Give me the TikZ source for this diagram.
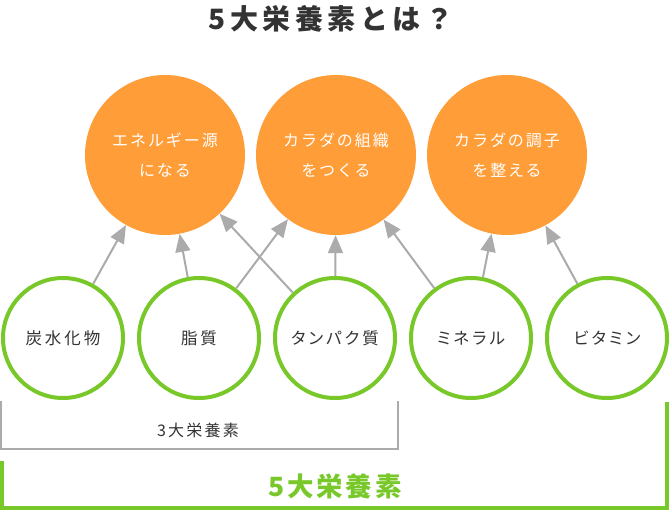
\documentclass[tikz,border=0pt]{standalone}
\usepackage{fontspec}
\setmainfont{Noto Sans CJK JP}
\usetikzlibrary{arrows.meta}
\definecolor{orangefill}{HTML}{FF9D38}
\definecolor{greenline}{HTML}{78C82A}
\definecolor{arrowgray}{HTML}{ABABAB}
\definecolor{textdark}{HTML}{333333}
\tikzset{
  goal/.style={circle, fill=orangefill, minimum size=160pt, inner sep=0pt, text=white, align=center,
    font=\fontsize{16}{30}\selectfont\addfontfeature{LetterSpace=12}},
  nutrient/.style={circle, draw=greenline, line width=4pt, minimum size=120pt, inner sep=0pt, text=textdark,
    font=\fontsize{16.5}{20}\selectfont\addfontfeature{RawFeature=+palt,LetterSpace=18}},
  link/.style={draw=arrowgray, line width=2pt, -{Triangle[length=18pt,width=15pt]}},
  bracketgray/.style={draw=arrowgray, line width=2pt},
  bracketgreen/.style={draw=greenline, line width=4pt},
}
\begin{document}
\begin{tikzpicture}[x=1pt,y=-1pt]
\useasboundingbox (0,0) rectangle (670,511);
\node[text=textdark, font=\fontsize{28}{30}\selectfont\bfseries\addfontfeature{LetterSpace=16}] (title) at (331,19) {5大栄養素とは？};
\node[goal] (energy) at (165,155) {エネルギー源\\になる};
\node[goal] (tissue) at (336,155) {カラダの組織\\をつくる};
\node[goal] (condition) at (507,155) {カラダの調子\\を整える};
\node[nutrient] (carb) at (63,338) {炭水化物};
\node[nutrient] (fat) at (199,338) {脂質};
\node[nutrient] (protein) at (335,338) {タンパク質};
\node[nutrient] (mineral) at (471,338) {ミネラル};
\node[nutrient] (vitamin) at (607,338) {ビタミン};
\draw[link] (carb) -- (energy);
\draw[link] (fat) -- (energy);
\draw[link] (fat) -- (tissue);
\draw[link] (protein) -- (energy);
\draw[link] (protein) -- (tissue);
\draw[link] (mineral) -- (tissue);
\draw[link] (mineral) -- (condition);
\draw[link] (vitamin) -- (condition);
\draw[bracketgray] (1,401) -- (1,449) -- (398,449) -- (398,401);
\node[text=textdark, font=\fontsize{16}{20}\selectfont\addfontfeature{LetterSpace=14}] (three) at (198,430) {3大栄養素};
\draw[bracketgreen] (2,461) -- (2,508) -- (667,508) -- (667,402);
\node[text=greenline, font=\fontsize{26.5}{30}\selectfont\bfseries\addfontfeature{LetterSpace=11}] (five) at (335,486) {5大栄養素};
\end{tikzpicture}
\end{document}
